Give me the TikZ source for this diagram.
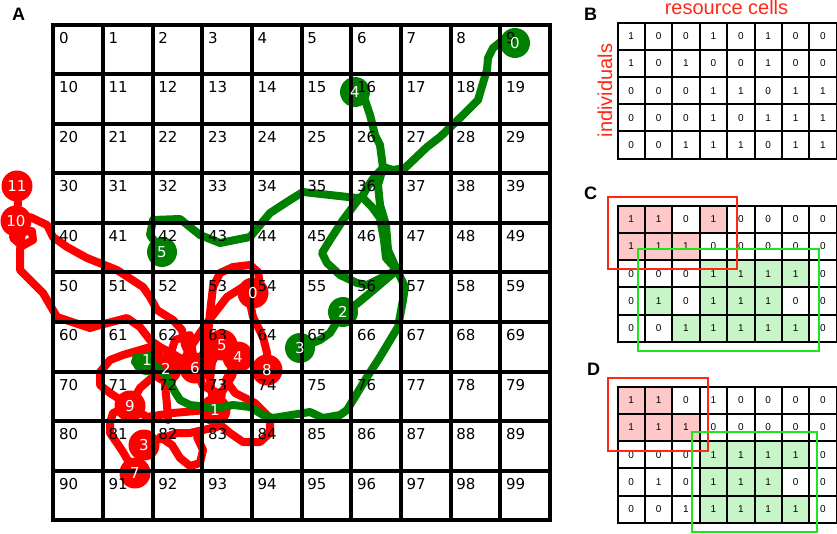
\documentclass[tikz,border=0pt]{standalone}
\usepackage{fontspec}
\newfontfamily\djv{DejaVu Sans}
\newfontfamily\lsans{Liberation Sans}
\definecolor{pred}{RGB}{255,0,0}
\definecolor{pgreen}{RGB}{0,128,0}
\definecolor{bred}{RGB}{255,40,20}
\definecolor{bgreen}{RGB}{30,230,30}
\definecolor{pinkfill}{RGB}{255,200,200}
\definecolor{lgfill}{RGB}{200,245,200}
\begin{document}
\begin{tikzpicture}[x=1pt,y=-1pt,
  redpath/.style={draw=pred,line width=8pt,line join=round,line cap=round},
  greenpath/.style={draw=pgreen,line width=8pt,line join=round,line cap=round},
  rdot/.style={circle,fill=pred,minimum size=31pt,inner sep=0pt},
  gdot/.style={circle,fill=pgreen,minimum size=30pt,inner sep=0pt},
  dotlabel/.style={text=white,font=\djv\fontsize{15}{15}\selectfont,inner sep=0pt},
  cellnum/.style={anchor=base west,font=\djv\fontsize{15}{15}\selectfont,inner sep=0pt},
  gridline/.style={line width=4pt,line cap=rect},
  tabline/.style={line width=2pt,line cap=rect},
  tabnum/.style={font=\lsans\fontsize{10}{12}\selectfont,inner sep=0pt},
  redbox/.style={draw=bred,line width=2pt},
  greenbox/.style={draw=bgreen,line width=2pt},
  panel/.style={anchor=base west,font=\lsans\bfseries\fontsize{18}{18}\selectfont,inner sep=0pt},
  redtext/.style={text=bred,font=\lsans\fontsize{20}{20}\selectfont,inner sep=0pt}
]
\useasboundingbox (0,0) rectangle (837,534);

% ---------- Panel A: circles (green first) ----------
\node[gdot] (g0) at (515,43) {};
\node[gdot] (g4) at (355,92) {};
\node[gdot] (g5) at (162,252) {};
\node[gdot] (g2) at (343,312) {};
\node[gdot] (g3) at (300,348) {};
\node[gdot] (g1) at (147,360) {};

% red trajectory
\coordinate (r11c) at (17,186);
\coordinate (r10c) at (16,221);
\coordinate (r0c) at (253,293);
\coordinate (r5c) at (222,345);
\coordinate (r4c) at (238,357);
\coordinate (r6c) at (195,368);
\coordinate (r8c) at (267,370);
\coordinate (r2c) at (166,369);
\coordinate (r1c) at (215,410);
\coordinate (r9c) at (130,406);
\coordinate (r3c) at (144,445);
\coordinate (r7c) at (135,473);

\draw[redpath] (r11c) -- (18,203) -- (r10c);
\draw[redpath] (r10c) -- (30,217) -- (47,225) -- (53,237) -- (67,247) -- (87,258) -- (97,262) -- (117,270) -- (143,287) -- (150,297) -- (157,310) -- (173,320) -- (182,330) -- (185,345) -- (r6c);
\draw[redpath] (r10c) -- (13,238) -- (22,246) -- (33,240) -- (32,231) -- (22,232) -- (20,250) -- (20,270) -- (27,277) -- (43,293) -- (57,317) -- (90,328) -- (100,325) -- (127,318) -- (140,327) -- (150,340) -- (160,347) -- (175,355) -- (r6c);
\draw[redpath] (r6c) -- (207,347) -- (210,313) -- (213,287) -- (220,273) -- (233,267) -- (250,265) -- (258,272) -- (260,285) -- (r0c);
\draw[redpath] (r0c) -- (250,303) -- (253,317) -- (258,327) -- (263,337) -- (267,353) -- (r8c);
\draw[redpath] (r0c) -- (243,287) -- (227,297) -- (217,310) -- (207,323) -- (200,333) -- (192,345) -- (185,358) -- (r2c);
\draw[redpath] (r2c) -- (157,350) -- (150,347) -- (140,350) -- (123,355) -- (110,360) -- (100,372) -- (100,385) -- (110,393) -- (r9c);
\draw[redpath] (r9c) -- (113,413) -- (110,423) -- (110,433) -- (117,443) -- (123,452) -- (r7c) -- (r3c);
\draw[redpath] (r3c) -- (157,440) -- (177,433) -- (190,433) -- (203,430) -- (217,427) -- (r1c);
\draw[redpath] (160,437) -- (172,445) -- (180,458) -- (190,466) -- (200,463) -- (203,450) -- (197,437);
\draw[redpath] (r9c) -- (147,417) -- (173,413) -- (207,410) -- (r1c);
\draw[redpath] (r1c) -- (217,422) -- (230,433) -- (243,442) -- (260,442) -- (270,433) -- (270,418) -- (255,403) -- (235,393) -- (226,380) -- (r4c);
\draw[redpath] (r2c) -- (165,385) -- (167,405) -- (168,420);
\draw[redpath] (r5c) -- (212,362) -- (210,380) -- (212,395) -- (r1c);
\draw[redpath] (r9c) -- (140,388) -- (155,375) -- (r2c);
\draw[redpath] (r6c) -- (r5c) -- (r4c);
\draw[redpath] (r6c) -- (203,386) -- (222,395) -- (r1c);
\draw[redpath] (r4c) -- (232,376) -- (222,392);
\draw[redpath] (r2c) -- (175,340) -- (190,335) -- (r6c);

\node[rdot] (r11) at (r11c) {};
\node[rdot] (r10) at (r10c) {};
\node[rdot] (r0) at (r0c) {};
\node[rdot] (r5) at (r5c) {};
\node[rdot] (r4) at (r4c) {};
\node[rdot] (r6) at (r6c) {};
\node[rdot] (r8) at (r8c) {};
\node[rdot] (r2) at (r2c) {};
\node[rdot] (r1) at (r1c) {};
\node[rdot] (r9) at (r9c) {};
\node[rdot] (r3) at (r3c) {};
\node[rdot] (r7) at (r7c) {};

% green trajectory
\draw[greenpath] (g0.center) -- (503,40) -- (493,48) -- (488,58) -- (487,70) -- (483,83) -- (478,100) -- (463,115) -- (440,137) -- (427,147) -- (405,168) -- (393,170) -- (383,167);
\draw[greenpath] (g4.center) -- (365,100) -- (370,115) -- (375,135) -- (380,145) -- (382,160) -- (383,168) -- (375,176) -- (368,186) -- (362,197) -- (357,198) -- (303,192) -- (290,200) -- (270,213) -- (250,237) -- (220,243) -- (200,235) -- (180,219) -- (153,220) -- (150,235) -- (g5.center);
\draw[greenpath] (383,168) -- (378,185) -- (380,205) -- (386,225) -- (388,250) -- (397,270);
\draw[greenpath] (362,197) -- (372,207) -- (380,218) -- (384,240) -- (386,258) -- (397,270);
\draw[greenpath] (358,200) -- (343,220) -- (330,240) -- (322,253) -- (327,263) -- (340,275) -- (357,283) -- (367,285) -- (397,270);
\draw[greenpath] (397,270) -- (370,293) -- (353,307) -- (g2.center) -- (330,333) -- (320,340) -- (g3.center);
\draw[greenpath] (397,270) -- (405,287) -- (403,300) -- (398,327) -- (380,357) -- (367,377) -- (347,410) -- (340,415) -- (323,418) -- (310,412) -- (273,418) -- (263,415) -- (250,407) -- (233,405) -- (217,408) -- (190,405) -- (180,400) -- (175,392) -- (167,377) -- (157,367) -- (148,360) -- (137,357) -- (135,362) -- (140,367);

% grid
\foreach \i in {0,...,10}{
  \draw[gridline] ({53.3+\i*49.67},25) -- ({53.3+\i*49.67},520);
  \draw[gridline] (53.3,{25+\i*49.5}) -- (550,{25+\i*49.5});
}
\foreach \r in {0,...,9}{\foreach \c in {0,...,9}{
  \pgfmathtruncatemacro{\n}{\r*10+\c}
  \node[cellnum] (cell\n) at ({53.3+\c*49.67+5.5},{25+\r*49.5+18.5}) {\n};
}}

% dot labels
\node[dotlabel] at (g0) {0};
\node[dotlabel] at (g4) {4};
\node[dotlabel] at (g5) {5};
\node[dotlabel] at (g2) {2};
\node[dotlabel] at (g3) {3};
\node[dotlabel] at (g1) {1};
\node[dotlabel] at (r11) {11};
\node[dotlabel] at (r10) {10};
\node[dotlabel] at (r0) {0};
\node[dotlabel] at (r5) {5};
\node[dotlabel] at (r4) {4};
\node[dotlabel] at (r6) {6};
\node[dotlabel] at (r8) {8};
\node[dotlabel] at (r2) {2};
\node[dotlabel] at (r1) {1};
\node[dotlabel] at (r9) {9};
\node[dotlabel] at (r3) {3};
\node[dotlabel] at (r7) {7};

% ---------- Panel labels ----------
\node[panel] (labA) at (12,20.7) {A};
\node[panel] (labB) at (584,21) {B};
\node[panel] (labC) at (584,200) {C};
\node[panel] (labD) at (587,375.7) {D};

% ---------- Panel B ----------
\node[redtext,anchor=base] (rc) at (726.5,15) {resource cells};
\node[redtext,anchor=base,rotate=90] (ind) at (612,90.5) {individuals};
\foreach \i in {0,...,8}{\draw[tabline] ({617.5+\i*27.4},22.7) -- ({617.5+\i*27.4},{22.7+5*27.2});}
\foreach \j in {0,...,5}{\draw[tabline] (617.5,{22.7+\j*27.2}) -- ({617.5+8*27.4},{22.7+\j*27.2});}
\foreach \row [count=\r from 0] in {{1,0,0,1,0,1,0,0},{1,0,1,0,0,1,0,0},{0,0,0,1,1,0,1,1},{0,0,0,1,0,1,1,1},{0,0,1,1,1,0,1,1}}{
  \foreach \v [count=\c from 0] in \row {\node[tabnum] (b\r\c) at ({617.5+(\c+0.5)*27.4},{22.7+(\r+0.5)*27.2}) {\v};}}

% ---------- Panel C ----------
\foreach \r/\c in {0/0,0/1,0/3,1/0,1/1,1/2}{\fill[pinkfill] ({617.5+\c*27.4},{205.7+\r*27.2}) rectangle ++(27.4,27.2);}
\foreach \r/\c in {2/3,2/4,2/5,2/6,3/1,3/3,3/4,3/5,4/2,4/3,4/4,4/5,4/6}{\fill[lgfill] ({617.5+\c*27.4},{205.7+\r*27.2}) rectangle ++(27.4,27.2);}
\foreach \i in {0,...,8}{\draw[tabline] ({617.5+\i*27.4},205.7) -- ({617.5+\i*27.4},{205.7+5*27.2});}
\foreach \j in {0,...,5}{\draw[tabline] (617.5,{205.7+\j*27.2}) -- ({617.5+8*27.4},{205.7+\j*27.2});}
\foreach \row [count=\r from 0] in {{1,1,0,1,0,0,0,0},{1,1,1,0,0,0,0,0},{0,0,0,1,1,1,1,0},{0,1,0,1,1,1,0,0},{0,0,1,1,1,1,1,0}}{
  \foreach \v [count=\c from 0] in \row {\node[tabnum] (c\r\c) at ({617.5+(\c+0.5)*27.4},{205.7+(\r+0.5)*27.2}) {\v};}}
\draw[redbox] (608.3,196.7) rectangle (736.7,269);
\draw[greenbox] (638.3,249) rectangle (819.3,351);

% ---------- Panel D ----------
\foreach \r/\c in {0/0,0/1,1/0,1/1,1/2}{\fill[pinkfill] ({617.5+\c*27.4},{386.7+\r*27.2}) rectangle ++(27.4,27.2);}
\foreach \r/\c in {2/3,2/4,2/5,2/6,3/3,3/4,3/5,4/3,4/4,4/5,4/6}{\fill[lgfill] ({617.5+\c*27.4},{386.7+\r*27.2}) rectangle ++(27.4,27.2);}
\foreach \i in {0,...,8}{\draw[tabline] ({617.5+\i*27.4},386.7) -- ({617.5+\i*27.4},{386.7+5*27.2});}
\foreach \j in {0,...,5}{\draw[tabline] (617.5,{386.7+\j*27.2}) -- ({617.5+8*27.4},{386.7+\j*27.2});}
\foreach \row [count=\r from 0] in {{1,1,0,1,0,0,0,0},{1,1,1,0,0,0,0,0},{0,0,0,1,1,1,1,0},{0,1,0,1,1,1,0,0},{0,0,1,1,1,1,1,0}}{
  \foreach \v [count=\c from 0] in \row {\node[tabnum] (d\r\c) at ({617.5+(\c+0.5)*27.4},{386.7+(\r+0.5)*27.2}) {\v};}}
\draw[redbox] (608.3,378.3) rectangle (708.3,450.7);
\draw[greenbox] (691.7,431.7) rectangle (816.7,532.3);
\end{tikzpicture}
\end{document}
